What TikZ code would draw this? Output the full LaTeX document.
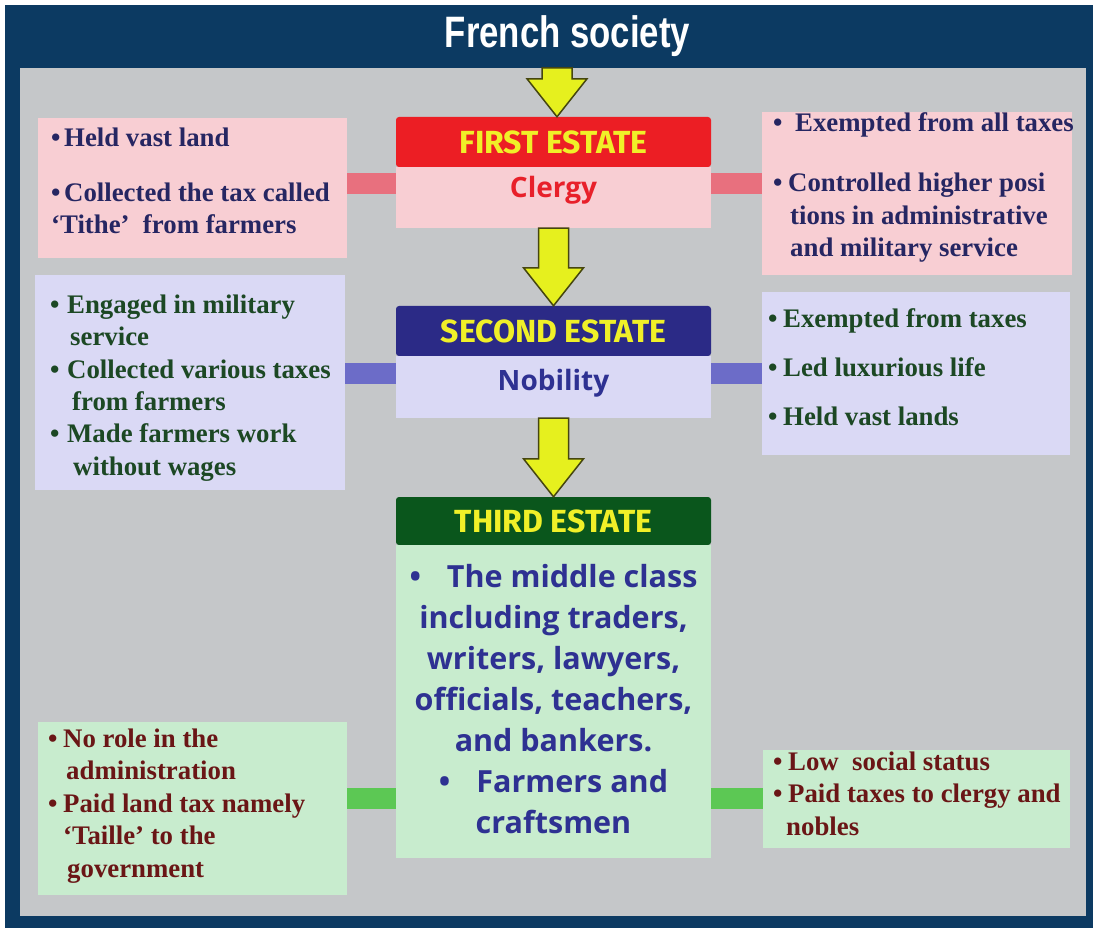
\documentclass[tikz,border=0pt]{standalone}
\usepackage{fontspec}
\setmainfont{Liberation Serif}
\newfontfamily\bodysans{Open Sans}
\newfontfamily\headsans{Fira Sans}
\newfontfamily\titlesans{Liberation Sans}
\usetikzlibrary{calc}

\definecolor{frame}{RGB}{12,58,98}
\definecolor{panel}{RGB}{197,199,201}
\definecolor{pinkbox}{RGB}{248,206,211}
\definecolor{pinkbar}{RGB}{232,112,126}
\definecolor{redhead}{RGB}{236,30,36}
\definecolor{redtext}{RGB}{232,32,42}
\definecolor{lavbox}{RGB}{218,217,245}
\definecolor{lavbar}{RGB}{108,108,200}
\definecolor{navyhead}{RGB}{43,42,134}
\definecolor{navytext}{RGB}{46,49,146}
\definecolor{greenbox}{RGB}{200,236,206}
\definecolor{greenbar}{RGB}{92,200,84}
\definecolor{greenhead}{RGB}{10,86,28}
\definecolor{headyellow}{RGB}{240,240,40}
\definecolor{arrowfill}{RGB}{230,240,30}
\definecolor{arrowedge}{RGB}{70,70,15}
\definecolor{darkblue}{RGB}{38,38,98}
\definecolor{darkgreen}{RGB}{28,72,36}
\definecolor{darkred}{RGB}{106,22,22}

\newcommand{\itm}[1][14pt]{\makebox[#1][l]{\textbullet}}
\newcommand{\cnt}[1][14pt]{\hspace*{#1}}
% block arrow from one node to the next
\newcommand{\bigarrow}[2]{%
  \draw[bigarr] let \p1=(#1), \p2=(#2) in
    (\x1-15pt,\y1) -- (\x1+15pt,\y1) -- (\x1+15pt,\y2+38pt) -- (\x1+30pt,\y2+38pt)
    -- (\x1,\y2) -- (\x1-30pt,\y2+38pt) -- (\x1-15pt,\y2+38pt) -- cycle;}

\begin{document}
\begin{tikzpicture}[x=1pt,y=-1pt,
  sidebox/.style={inner sep=0pt},
  estatehead/.style={minimum width=315pt, minimum height=50pt, inner sep=0pt,
    rounded corners=3pt, text=headyellow,
    font=\headsans\bfseries\fontsize{32}{32}\selectfont},
  estatebody/.style={minimum width=315pt, inner sep=0pt},
  sidetext/.style={anchor=base west, inner sep=0pt,
    font=\bfseries\fontsize{26.8}{32.5}\selectfont},
  bar/.style={line width=21pt},
  bigarr/.style={fill=arrowfill, draw=arrowedge, line width=1.5pt}]
\useasboundingbox (0,0) rectangle (1093,928);
\fill[white] (0,0) rectangle (1093,928);
\fill[frame] (5,5) rectangle (1093,928);
\fill[panel] (20,68) rectangle (1086,916);

\node (title) [anchor=base, text=white, font=\titlesans\bfseries\fontsize{44}{44}\selectfont]
  at (567.5,48) {\scalebox{0.79}[1]{French society}};
\coordinate (top) at (557,68);

% estates
\node (fe) [estatehead, fill=redhead] at (553.5,142) {FIRST ESTATE};
\node (clergy) [estatebody, fill=pinkbox, minimum height=61pt] at (553.5,197.5) {};
\node [anchor=base, text=redtext, font=\bodysans\bfseries\fontsize{28}{28}\selectfont]
  at (553.5,198) {Clergy};
\node (se) [estatehead, fill=navyhead] at (553.5,331) {SECOND ESTATE};
\node (nobility) [estatebody, fill=lavbox, minimum height=62pt] at (553.5,387) {};
\node [anchor=base, text=navytext, font=\bodysans\bfseries\fontsize{28}{28}\selectfont]
  at (553.5,390) {Nobility};
\node (te) [estatehead, fill=greenhead, minimum height=48pt] at (553.5,521) {THIRD ESTATE};
\node (commons) [estatebody, fill=greenbox, minimum height=313pt] at (553.5,701.5) {};
\node [anchor=base, inner sep=0pt, text=navytext, font=\bodysans\bfseries\fontsize{30.5}{41}\selectfont]
  at (553.5,587) {\begin{tabular}[t]{@{}c@{}}
  \textbullet\hspace{26pt}The middle class\\
  including traders,\\
  writers, lawyers,\\
  officials, teachers,\\
  and bankers.\\
  \textbullet\hspace{26pt}Farmers and\\
  craftsmen
  \end{tabular}};

% side boxes
\node (lb1) [sidebox, fill=pinkbox, minimum width=309pt, minimum height=140pt] at (192.5,188) {};
\node (rb1) [sidebox, fill=pinkbox, minimum width=310pt, minimum height=163pt] at (917,193.5) {};
\node (lb2) [sidebox, fill=lavbox, minimum width=310pt, minimum height=215pt] at (190,382.5) {};
\node (rb2) [sidebox, fill=lavbox, minimum width=308pt, minimum height=163pt] at (916,373.5) {};
\node (lb3) [sidebox, fill=greenbox, minimum width=309pt, minimum height=173pt] at (192.5,808.5) {};
\node (rb3) [sidebox, fill=greenbox, minimum width=307pt, minimum height=98pt] at (916.5,799) {};

\node [sidetext, text=darkblue] at (51,147) {\begin{tabular}[t]{@{}l@{}}
  \itm[13pt]Held vast land\\[22pt]
  \itm[13pt]Collected the tax called\\
  \cnt[0pt]`Tithe'\ \ from farmers
  \end{tabular}};
\node [sidetext, text=darkblue] at (773,132) {\begin{tabular}[t]{@{}l@{}}
  \itm[22pt]Exempted from all taxes\\[27.5pt]
  \itm[15pt]Controlled higher posi\\
  \cnt[17pt]tions in administrative\\
  \cnt[17pt]and military service
  \end{tabular}};
\node [sidetext, text=darkgreen] at (50,313) {\begin{tabular}[t]{@{}l@{}}
  \itm[17pt]Engaged in military\\
  \cnt[20pt]service\\
  \itm[17pt]Collected various taxes\\
  \cnt[22pt]from farmers\\
  \itm[17pt]Made farmers work\\
  \cnt[23pt]without wages
  \end{tabular}};
\node [sidetext, text=darkgreen] at (768,327) {\begin{tabular}[t]{@{}l@{}}
  \itm[15pt]Exempted from taxes\\[16.5pt]
  \itm[15pt]Led luxurious life\\[16.5pt]
  \itm[15pt]Held vast lands
  \end{tabular}};
\node [sidetext, text=darkred] at (48,747) {\begin{tabular}[t]{@{}l@{}}
  \itm[15pt]No role in the\\
  \cnt[18pt]administration\\
  \itm[15pt]Paid land tax namely\\
  \cnt[15pt]`Taille' to the\\
  \cnt[19pt]government
  \end{tabular}};
\node [sidetext, text=darkred] at (773,770) {\begin{tabular}[t]{@{}l@{}}
  \itm[15pt]Low\ \ social status\\
  \itm[15pt]Paid taxes to clergy and\\
  \cnt[13pt]nobles
  \end{tabular}};

% bars
\coordinate (b1) at (0,184);
\coordinate (b2) at (0,373);
\coordinate (b3) at (0,798.5);
\draw[bar, pinkbar] (lb1.east |- b1) -- (clergy.west |- b1);
\draw[bar, pinkbar] (clergy.east |- b1) -- (rb1.west |- b1);
\draw[bar, lavbar] (lb2.east |- b2) -- (nobility.west |- b2);
\draw[bar, lavbar] (nobility.east |- b2) -- (rb2.west |- b2);
\draw[bar, greenbar] (lb3.east |- b3) -- (commons.west |- b3);
\draw[bar, greenbar] (commons.east |- b3) -- (rb3.west |- b3);

% arrows
\bigarrow{top}{fe.north}
\bigarrow{clergy.south}{se.north}
\bigarrow{nobility.south}{te.north}
\end{tikzpicture}
\end{document}
